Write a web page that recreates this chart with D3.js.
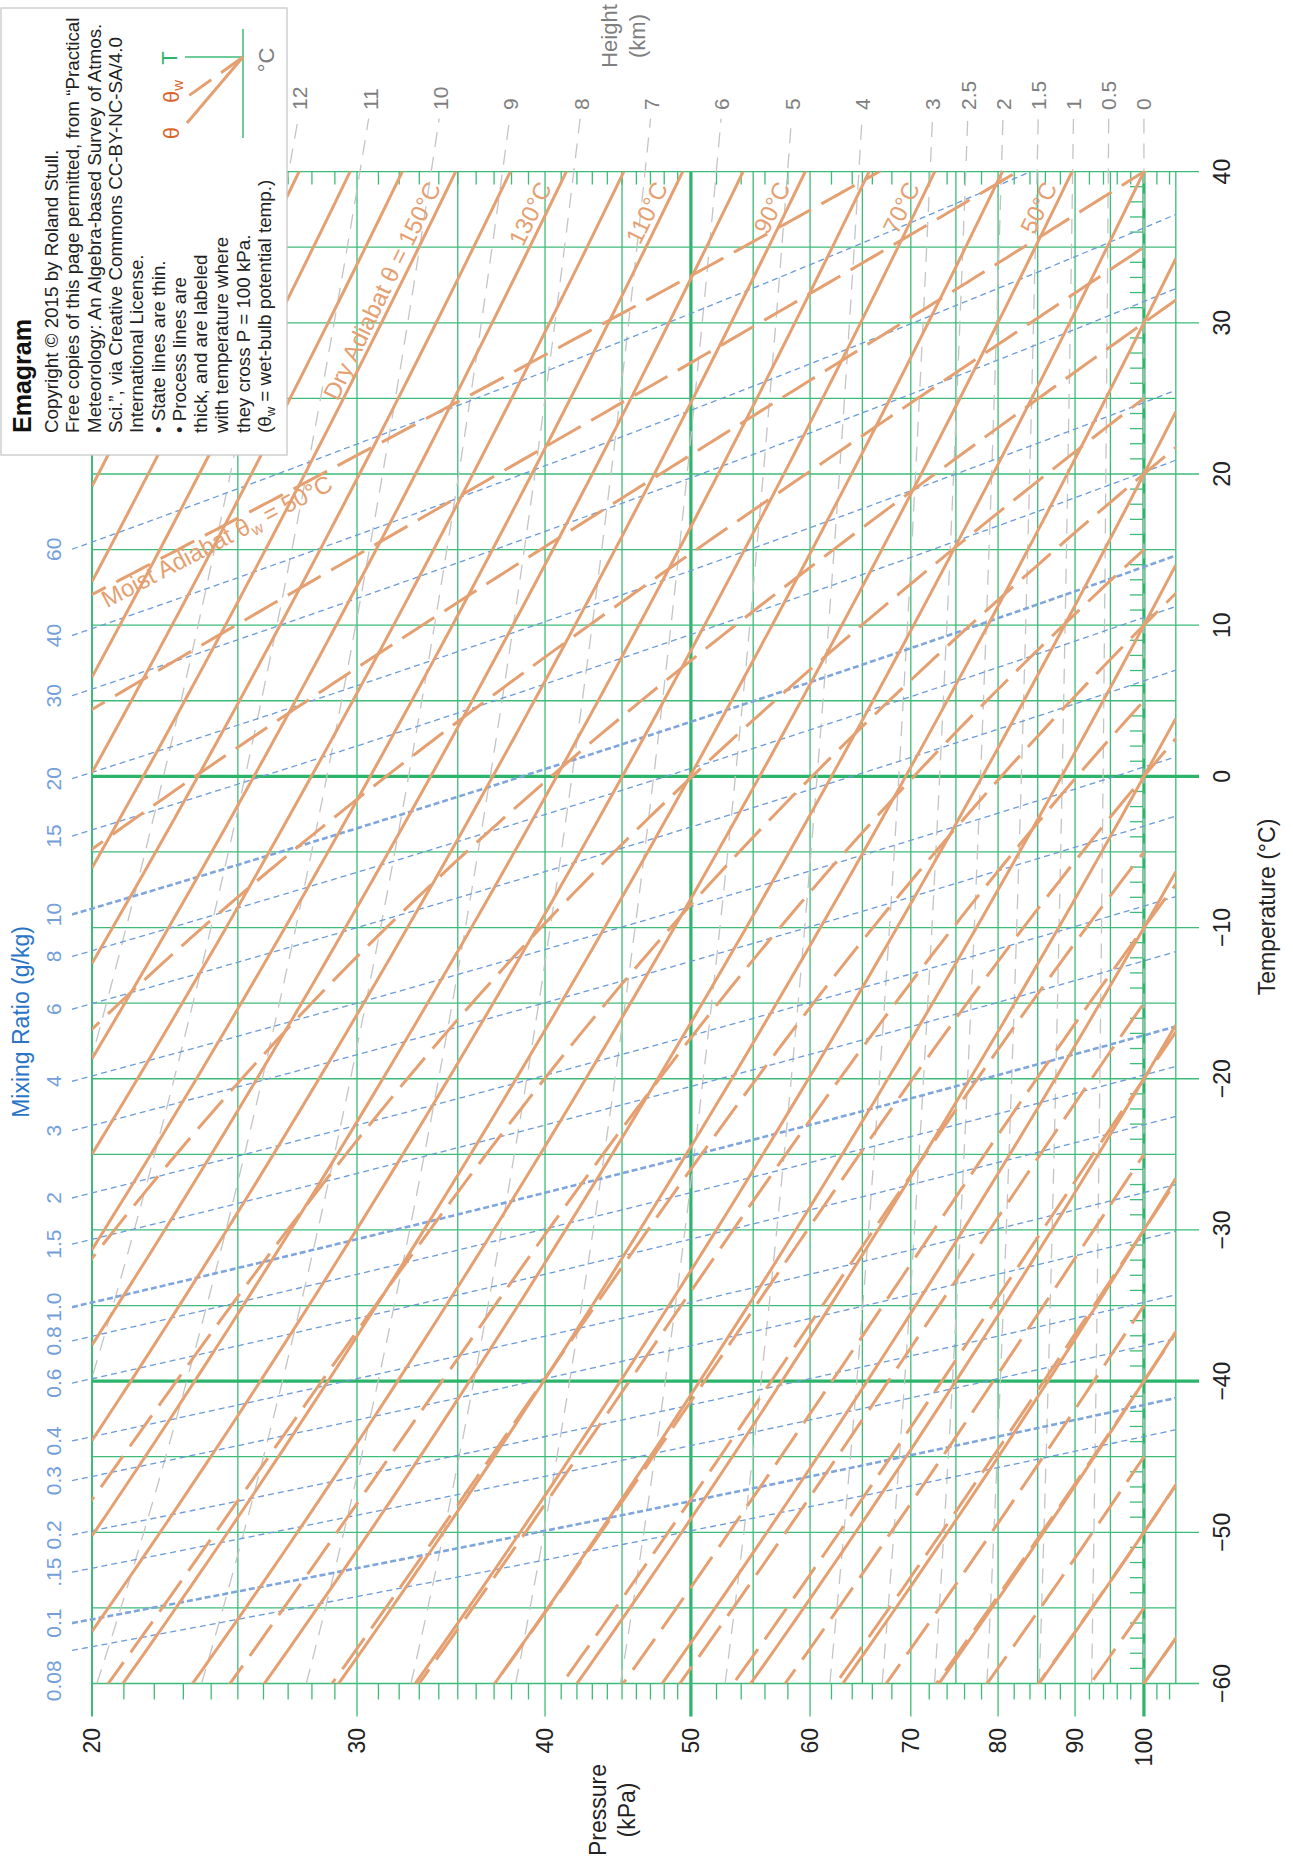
<!DOCTYPE html>
<html>
<head>
<meta charset="utf-8">
<script src="https://cdn.jsdelivr.net/npm/d3@7"></script>
<style>
  body { margin: 0; background: #fff; }
  svg { display: block; font-family: "Liberation Sans", Arial, Helvetica, sans-serif; }
</style>
</head>
<body>
<svg id="chart" width="1293" height="1866"></svg>
<script>
// ---- data ----
var pressureTicks = [20, 30, 40, 50, 60, 70, 80, 90, 100];          // kPa
var tempTicks = [-60, -50, -40, -30, -20, -10, 0, 10, 20, 30, 40];    // degC
var dryThetas = d3.range(-60, 231, 10);                               // dry adiabats, theta (degC)
var dryLabels = [150, 130, 110, 90, 70, 50];
var moistThetaW = d3.range(-60, 51, 5);                               // moist adiabats, theta_w (degC)
var mixRatios = [0.08, 0.1, 0.15, 0.2, 0.3, 0.4, 0.6, 0.8, 1.0, 1.5, 2, 3, 4, 6, 8, 10, 15, 20, 30, 40, 60]; // g/kg
var mixLabels = ["0.08", "0.1", ".15", "0.2", "0.3", "0.4", "0.6", "0.8", "1.0", "1.5", "2", "3", "4", "6", "8", "10", "15", "20", "30", "40", "60"];
var mixBold = [0.1, 1.0, 10];
var heights = [0, 0.5, 1, 1.5, 2, 2.5, 3, 4, 5, 6, 7, 8, 9, 10, 11, 12];  // km
var heightLabels = ["0", "0.5", "1", "1.5", "2", "2.5", "3", "4", "5", "6", "7", "8", "9", "10", "11", "12"];
var legendLines = [
    "Copyright \u00a9 2015 by Roland Stull.",
    "Free copies of this page permitted, from \u201cPractical",
    "Meteorology: An Algebra-based Survey of Atmos.",
    "Sci.\u201d, via Creative Commons CC-BY-NC-SA/4.0",
    "International License.",
    "\u2022 State lines are thin.",
    "\u2022 Process lines are",
    "thick, and are labeled",
    "with temperature where",
    "they cross P = 100 kPa."
];

// ---- constants ----
var K = 273.15, Rd = 287.04, Cp = 1004, Lv = 2.5e6, eps = 0.622, g = 9.8;
var green = "#3dbb78", greenDark = "#2db46b", orange = "#e5a072", blue = "#6b9bd9", grey = "#c4c4c4";

var svg = d3.select("#chart");

// chart is an emagram turned on its side: pressure runs left->right, temperature bottom->top
var x = d3.scaleLog().domain([20, 105]).range([92, 92 + 653.6 * Math.log(105 / 20)]);
var y = d3.scaleLinear().domain([-60, 40]).range([1683.5, 171.6]);
var X0 = x(20), X1 = x(105), Y0 = y(40), Y1 = y(-60);

function es(tc) { return 0.6112 * Math.exp(17.67 * tc / (tc + 243.5)); }
function rsat(tc, p) { var e = es(tc); return eps * e / (p - e); }
function dryT(theta, p) { return (theta + K) * Math.pow(p / 100, Rd / Cp) - K; }
function mixT(r, p) {
    var a = Math.log(r / 1000 * p / (eps + r / 1000) / 0.6112);
    return 243.5 * a / (17.67 - a);
}
function moistSlope(tc, p) {
    var t = tc + K, r = rsat(tc, p);
    return (Rd * t + Lv * r) / (Cp + Lv * Lv * r * eps / (Rd * t * t));
}
// integrate the pseudo-adiabat both ways from 100 kPa
function moistLine(tw, pMax) {
    var up = [], down = [];
    [-1, 1].forEach(function (dir) {
        var lp = Math.log(100), t = tw, h = 0.01 * dir, out = dir < 0 ? up : down;
        while (dir < 0 ? lp > Math.log(19.5) : lp < Math.log(pMax) - 1e-9) {
            var k1 = moistSlope(t, Math.exp(lp)),
                k2 = moistSlope(t + h / 2 * k1, Math.exp(lp + h / 2)),
                k3 = moistSlope(t + h / 2 * k2, Math.exp(lp + h / 2)),
                k4 = moistSlope(t + h * k3, Math.exp(lp + h));
            t += h / 6 * (k1 + 2 * k2 + 2 * k3 + k4);
            lp += h;
            out.push([Math.exp(lp), t]);
        }
    });
    return up.reverse().concat([[100, tw]], down);
}
function logRange(p0, p1, n) {
    return d3.range(n + 1).map(function (i) { return p0 * Math.pow(p1 / p0, i / n); });
}

var line = d3.line().x(function (d) { return x(d[0]); }).y(function (d) { return y(d[1]); });

// clip regions
var defs = svg.append("defs");
defs.append("clipPath").attr("id", "clipPlot").append("rect")
    .attr("x", X0).attr("y", Y0).attr("width", X1 - X0).attr("height", Y1 - Y0);
defs.append("clipPath").attr("id", "clipMix").append("rect")
    .attr("x", 72).attr("y", Y0).attr("width", X1 - 72).attr("height", Y1 - Y0);
defs.append("clipPath").attr("id", "clipHgt").append("rect")
    .attr("x", X0).attr("y", 118).attr("width", X1 - X0).attr("height", Y1 - 118);

// ---- grid ----
var grid = svg.append("g");
var pGrid = d3.range(20, 106, 5);
var tGrid = d3.range(-60, 41, 5);
var pMinor = d3.range(21, 50).concat(d3.range(52, 105, 2)).filter(function (p) { return p % 10 !== 0; });
var tMinor = d3.range(-59, 40).filter(function (t) { return t % 5 !== 0; });

grid.selectAll(".pg").data(pGrid).join("line")
    .attr("x1", function (d) { return x(d); }).attr("x2", function (d) { return x(d); })
    .attr("y1", Y0).attr("y2", function (d) { return d % 10 === 0 ? Y1 + 33 : Y1; })
    .attr("stroke", function (d) { return (d === 50 || d === 100) ? greenDark : green; })
    .attr("stroke-width", function (d) { return (d === 50 || d === 100) ? 3.2 : (d === 20 ? 2 : 1.3); });

grid.selectAll(".tg").data(tGrid).join("line")
    .attr("x1", X0).attr("x2", function (d) { return d % 10 === 0 ? 1199 : X1; })
    .attr("y1", function (d) { return y(d); }).attr("y2", function (d) { return y(d); })
    .attr("stroke", function (d) { return (d === 0 || d === -40) ? greenDark : green; })
    .attr("stroke-width", function (d) { return (d === 0 || d === -40) ? 3.2 : 1.3; });

grid.selectAll(".pb").data(pMinor).join("line")
    .attr("x1", function (d) { return x(d); }).attr("x2", function (d) { return x(d); })
    .attr("y1", Y1).attr("y2", Y1 + 16).attr("stroke", green).attr("stroke-width", 1.3);
grid.selectAll(".pt").data(pMinor).join("line")
    .attr("x1", function (d) { return x(d); }).attr("x2", function (d) { return x(d); })
    .attr("y1", Y0).attr("y2", Y0 + 13).attr("stroke", green).attr("stroke-width", 1.3);
grid.selectAll(".tt").data(tMinor).join("line")
    .attr("x1", x(100) - 14).attr("x2", x(100))
    .attr("y1", function (d) { return y(d); }).attr("y2", function (d) { return y(d); })
    .attr("stroke", green).attr("stroke-width", 1.3);

// ---- height lines (grey dashed) ----
var hg = svg.append("g");
heights.forEach(function (z, i) {
    var pts = d3.range(-60, 43.61, 0.5).map(function (t) {
        return [100 * Math.exp(-g * z * 1000 / (287 * (t + K))), t];
    });
    hg.append("path").attr("d", line(pts)).attr("clip-path", "url(#clipHgt)")
        .attr("fill", "none").attr("stroke", grey).attr("stroke-width", 1.3)
        .attr("stroke-dasharray", "15,10");
    var tl = y.invert(110), pl = 100 * Math.exp(-g * z * 1000 / (287 * (tl + K)));
    hg.append("text").attr("transform", "translate(" + x(pl) + ",110) rotate(-90)")
        .attr("text-anchor", "start").attr("dominant-baseline", "central")
        .attr("font-size", 21).attr("fill", "#7f7f7f").text(heightLabels[i]);
});
svg.append("text").attr("transform", "translate(617,36) rotate(-90)")
    .attr("text-anchor", "middle").attr("font-size", 22).attr("fill", "#7f7f7f")
    .selectAll("tspan").data(["Height", "(km)"]).join("tspan")
    .attr("x", 0).attr("dy", function (d, i) { return i === 0 ? 0 : 28; }).text(function (d) { return d; });

// ---- mixing ratio lines (blue dashed) ----
var mg = svg.append("g");
var pLeft = x.invert(72);
mixRatios.forEach(function (r, i) {
    var pts = logRange(pLeft, 105, 200).map(function (p) { return [p, mixT(r, p)]; });
    var bold = mixBold.indexOf(r) >= 0;
    var ly = y(mixT(r, pLeft));
    mg.append("path").attr("d", line(pts)).attr("clip-path", "url(#clipMix)")
        .attr("fill", "none").attr("stroke", bold ? "#7ea6dd" : blue)
        .attr("stroke-width", bold ? 2.6 : 1.3).attr("stroke-dasharray", bold ? "6,3" : "6,4");
    // lowest label would collide with the next one, so it hangs below its line
    mg.append("text").attr("transform", "translate(53," + (i === 0 ? ly + 10 : ly) + ") rotate(-90)")
        .attr("text-anchor", i === 0 ? "end" : "middle").attr("dominant-baseline", "central")
        .attr("font-size", 21).attr("fill", "#74a0da").text(mixLabels[i]);
});
svg.append("text").attr("transform", "translate(29,1022) rotate(-90)")
    .attr("text-anchor", "middle").attr("font-size", 23).attr("fill", "#2a74c6")
    .text("Mixing Ratio (g/kg)");

// ---- dry adiabats (solid) ----
var dg = svg.append("g").attr("clip-path", "url(#clipPlot)");
dryThetas.forEach(function (th) {
    var pts = logRange(20, 105, 120).map(function (p) { return [p, dryT(th, p)]; });
    dg.append("path").attr("d", line(pts)).attr("fill", "none")
        .attr("stroke", orange).attr("stroke-width", 3);
});

// ---- moist adiabats (long dashes); the in-between ones stop at 100 kPa ----
var wg = svg.append("g").attr("clip-path", "url(#clipPlot)");
moistThetaW.forEach(function (tw) {
    wg.append("path").attr("d", line(moistLine(tw, tw % 10 === 0 ? 106 : 100))).attr("fill", "none")
        .attr("stroke", orange).attr("stroke-width", 3).attr("stroke-dasharray", "38,12");
});

// ---- process line labels ----
var lg = svg.append("g").attr("fill", orange).attr("font-size", 24);
dryLabels.forEach(function (th) {
    var te = 38.8, pe = 100 * Math.pow((te + K) / (th + K), Cp / Rd);
    var slope = Rd / Cp * (te + K);
    var ang = Math.atan2(-slope * (y(0) - y(1)), x(Math.E * 20) - x(20)) * 180 / Math.PI;
    lg.append("text").attr("transform", "translate(" + x(pe) + "," + y(te) + ") rotate(" + ang + ")")
        .attr("text-anchor", "end").attr("dy", -6)
        .text(th === 150 ? "Dry Adiabat  \u03b8 = 150\u00b0C" : th + "\u00b0C");
});
(function () {
    var ml = moistLine(50, 100).filter(function (d) { return d[0] >= 20.1; });
    var a = ml[0], b = ml.find(function (d) { return d[0] >= 27; });
    var ang = Math.atan2(y(b[1]) - y(a[1]), x(b[0]) - x(a[0])) * 180 / Math.PI;
    var t = lg.append("text").attr("transform", "translate(" + x(a[0]) + "," + y(a[1]) + ") rotate(" + ang + ")")
        .attr("dy", 19);
    t.append("tspan").text("Moist Adiabat  \u03b8");
    t.append("tspan").attr("dy", 5).attr("font-size", 16).text("w");
    t.append("tspan").attr("dy", -5).text(" = 50\u00b0C");
})();

// ---- axis labels ----
var ax = svg.append("g").attr("fill", "#222").attr("font-size", 23);
ax.selectAll(".pl").data(pressureTicks).join("text")
    .attr("transform", function (d) { return "translate(" + x(d) + ",1728) rotate(-90)"; })
    .attr("text-anchor", "end").attr("dominant-baseline", "central").text(function (d) { return d; });
ax.selectAll(".tl").data(tempTicks).join("text")
    .attr("transform", function (d) { return "translate(1222," + y(d) + ") rotate(-90)"; })
    .attr("text-anchor", "middle").attr("dominant-baseline", "central")
    .text(function (d) { return d < 0 ? "\u2212" + (-d) : d; });
svg.append("text").attr("transform", "translate(1275,907) rotate(-90)")
    .attr("text-anchor", "middle").attr("font-size", 23).attr("fill", "#222").text("Temperature (\u00b0C)");
svg.append("text").attr("transform", "translate(606,1810) rotate(-90)")
    .attr("text-anchor", "middle").attr("font-size", 23).attr("fill", "#222")
    .selectAll("tspan").data(["Pressure", "(kPa)"]).join("tspan")
    .attr("x", 0).attr("dy", function (d, i) { return i === 0 ? 0 : 29; }).text(function (d) { return d; });

// ---- legend box ----
var leg = svg.append("g");
leg.append("rect").attr("x", 1).attr("y", 8).attr("width", 286).attr("height", 447)
    .attr("fill", "#fff").attr("stroke", "#c8c8c8").attr("stroke-width", 1.3);
leg.append("text").attr("transform", "translate(31,433) rotate(-90)")
    .attr("font-size", 25).attr("font-weight", "bold").attr("fill", "#111").text("Emagram");
legendLines.forEach(function (s, i) {
    leg.append("text").attr("transform", "translate(" + (58 + 21.3 * i) + ",433) rotate(-90)")
        .attr("font-size", 18.8).attr("fill", "#222").text(s);
});
var last = leg.append("text").attr("transform", "translate(" + (58 + 21.3 * 10) + ",433) rotate(-90)")
    .attr("font-size", 18.8).attr("fill", "#222");
last.append("tspan").text("(\u03b8");
last.append("tspan").attr("dy", 4).attr("font-size", 13).text("w");
last.append("tspan").attr("dy", -4).text(" = wet-bulb potential temp.)");

leg.append("line").attr("x1", 243).attr("x2", 243).attr("y1", 29).attr("y2", 138).attr("stroke", green).attr("stroke-width", 1.5);
leg.append("line").attr("x1", 185).attr("x2", 243).attr("y1", 57).attr("y2", 57).attr("stroke", green).attr("stroke-width", 1.5);
leg.append("line").attr("x1", 243).attr("y1", 57).attr("x2", 187).attr("y2", 123).attr("stroke", orange).attr("stroke-width", 3);
leg.append("line").attr("x1", 243).attr("y1", 57).attr("x2", 187).attr("y2", 97).attr("stroke", orange).attr("stroke-width", 3).attr("stroke-dasharray", "27,12");
leg.append("text").attr("transform", "translate(169,58) rotate(-90)").attr("text-anchor", "middle")
    .attr("dominant-baseline", "central").attr("font-size", 22).attr("fill", "#2db46b").text("T");
leg.append("text").attr("transform", "translate(171,133) rotate(-90)").attr("text-anchor", "middle")
    .attr("dominant-baseline", "central").attr("font-size", 22).attr("fill", "#d9652b").text("\u03b8");
var tw = leg.append("text").attr("transform", "translate(171,103) rotate(-90)")
    .attr("dominant-baseline", "central").attr("font-size", 22).attr("fill", "#d9652b");
tw.append("tspan").text("\u03b8");
tw.append("tspan").attr("dy", 6).attr("font-size", 15).text("w");
leg.append("text").attr("transform", "translate(266,60) rotate(-90)").attr("text-anchor", "middle")
    .attr("dominant-baseline", "central").attr("font-size", 22).attr("fill", "#7f7f7f").text("\u00b0C");
</script>
</body>
</html>
